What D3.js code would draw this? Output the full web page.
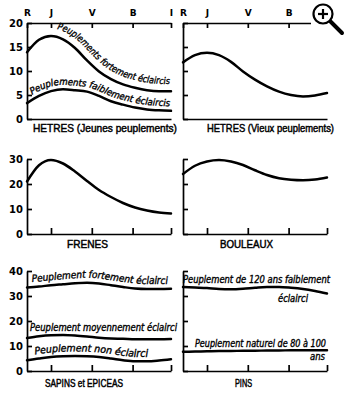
<!DOCTYPE html>
<html><head><meta charset="utf-8">
<script src="https://cdn.jsdelivr.net/npm/d3@7"></script>
<style>body{margin:0;background:#fff} svg{display:block}</style>
</head><body>
<script>
// ---- data ----
const xTickLabels = ["R", "J", "V", "B", "I"];
const xTickValues = [0, 1, 2.7, 4.4, 6];
const xs = [0, 0.5, 1, 1.5, 2, 2.5, 3, 3.5, 4, 4.5, 5, 5.5, 6];
const hetresJeunesFort   = [13.9, 16.5, 17.3, 16.6, 14.8, 12.2, 9.9, 8.3, 7.2, 6.5, 6.0, 5.8, 5.8];
const hetresJeunesFaible = [3.3, 4.8, 5.8, 6.2, 6.0, 5.7, 4.8, 3.7, 3.0, 2.4, 2.0, 1.8, 1.7];
const hetresVieux        = [11.8, 13.3, 13.8, 13.3, 11.9, 9.9, 8.2, 6.8, 5.7, 5.0, 4.7, 4.9, 5.4];
const frenes             = [21, 27.5, 29.6, 28.2, 25, 21.2, 17.6, 14.8, 12.4, 10.6, 9.4, 8.6, 8.2];
const bouleaux           = [24, 27.3, 29, 29.6, 29, 27.6, 25.5, 23.6, 22.3, 21.7, 21.5, 21.8, 22.6];
const sapinsFort         = [33.4, 33.8, 34.3, 34.7, 35.1, 35.3, 35.0, 34.3, 33.6, 33.0, 32.8, 32.8, 32.9];
const sapinsMoyen        = [13.2, 13.9, 14.3, 14.4, 14.2, 13.8, 13.3, 13.0, 12.9, 12.7, 12.7, 12.7, 12.8];
const sapinsNon          = [4.3, 5.0, 5.6, 5.9, 6.0, 5.9, 5.6, 5.0, 4.3, 3.9, 3.9, 4.2, 4.7];
const pinsFaible         = [33.6, 33.4, 33.2, 32.8, 32.7, 32.9, 33.3, 33.6, 33.6, 33.3, 32.8, 32.0, 31.0];
const pinsNaturel        = [7.7, 7.8, 7.9, 8.0, 8.0, 8.1, 8.1, 8.2, 8.2, 8.3, 8.3, 8.3, 8.3];
const yTicksTop = [0, 5, 10, 15, 20];
const yTicksMid = [0, 10, 20, 30];
const yTicksBot = [0, 10, 20, 30, 40];
const titles = ["HETRES (Jeunes peuplements)", "HETRES (Vieux peuplements)", "FRENES", "BOULEAUX", "SAPINS et EPICEAS", "PINS"];

// ---- layout ----
const W = 350, H = 400;
const svg = d3.select("body").append("svg").attr("width", W).attr("height", H);
const defs = svg.append("defs");
const cols = [[27, 171], [183, 327]];
const rows = [[119, 23], [234, 159], [371, 271]];
const rowTicks = [yTicksTop, yTicksMid, yTicksBot];
const rowDomains = [[0, 20], [0, 30], [0, 40]];
const titleBoxes = [
  [33, 177, 132], [207, 334, 132],
  [67, 108, 248], [220, 273, 248],
  [45, 123, 387], [235, 252, 387]
];
const seriesByPanel = [
  [hetresJeunesFort, hetresJeunesFaible], [hetresVieux],
  [frenes], [bouleaux],
  [sapinsFort, sapinsMoyen, sapinsNon], [pinsFaible, pinsNaturel]
];

const panels = [];
for (let r = 0; r < 3; r++) for (let c = 0; c < 2; c++) {
  const i = r * 2 + c;
  const x = d3.scaleLinear().domain([0, 6]).range(cols[c]);
  const y = d3.scaleLinear().domain(rowDomains[r]).range(rows[r]);
  panels.push({ r, c, x, y });
  const g = svg.append("g");

  const ax = d3.axisLeft(y).tickValues(rowTicks[r]).tickSizeInner(-5).tickSizeOuter(0).tickPadding(4)
    .tickFormat(c === 0 ? d3.format("d") : "");
  const gl = g.append("g").attr("transform", `translate(${cols[c][0]},0)`).call(ax);
  const bx = d3.axisBottom(x).tickValues(r === 0 ? [] : xTickValues.slice(1)).tickSizeInner(-6).tickSizeOuter(0).tickFormat("");
  const gb = g.append("g").attr("transform", `translate(0,${rows[r][0]})`).call(bx);
  const axes = [gl, gb];
  if (r === 0) {
    const tx = d3.axisTop(x).tickValues(xTickValues).tickSizeInner(-5).tickSizeOuter(0).tickPadding(7)
      .tickFormat((d, k) => xTickLabels[k]);
    const gt = g.append("g").attr("transform", `translate(0,${rows[r][1]})`).call(tx);
    gt.selectAll("text").attr("font-size", 9).attr("font-weight", "bold");
    axes.push(gt);
  }
  axes.forEach(a => {
    a.select(".domain").attr("stroke", "#000").attr("stroke-width", 1.7);
    a.selectAll(".tick line").attr("stroke", "#000").attr("stroke-width", 1.7);
    a.selectAll("text").attr("fill", "#000").attr("font-family", "'DejaVu Sans', sans-serif");
  });
  gl.selectAll("text").attr("font-size", 10).attr("font-weight", "bold");

  const line = d3.line().x((d, k) => x(xs[k])).y(d => y(d)).curve(d3.curveMonotoneX);
  seriesByPanel[i].forEach(s => {
    g.append("path").attr("d", line(s)).attr("fill", "none").attr("stroke", "#000")
      .attr("stroke-width", 2.5).attr("stroke-linecap", "round");
  });

  const tb = titleBoxes[i];
  g.append("text").attr("x", tb[0]).attr("y", tb[2]).text(titles[i])
    .attr("font-family", "'Liberation Sans', Arial, sans-serif")
    .attr("font-size", r === 0 ? 10.5 : 10)
    .attr("stroke", "#000").attr("stroke-width", 0.45)
    .attr("textLength", tb[1] - tb[0]).attr("lengthAdjust", "spacingAndGlyphs")
    .attr("fill", "#000");
}

// ---- curve labels ----
const labelFont = "'DejaVu Sans Condensed', 'DejaVu Sans', sans-serif";
let pid = 0;
function offsetAtX(node, px) {
  let lo = 0, hi = node.getTotalLength();
  for (let k = 0; k < 40; k++) {
    const mid = (lo + hi) / 2;
    if (node.getPointAtLength(mid).x < px) lo = mid; else hi = mid;
  }
  return (lo + hi) / 2;
}
function styleLabel(t, size) {
  return t.attr("font-family", labelFont).attr("font-size", size).attr("font-style", "italic")
    .attr("fill", "#000").attr("stroke", "#000").attr("stroke-width", 0.35);
}
// label follows the curve, lifted along its normal by `dist` pixels; one text per word
function curvedLabel(p, series, text, x0px, x1px, dist, size) {
  const base = d3.line().x((d, k) => p.x(xs[k])).y(d => p.y(d)).curve(d3.curveMonotoneX);
  const tmp = defs.append("path").attr("d", base(series));
  const tn = tmp.node(), L = tn.getTotalLength(), N = 240;
  const pts = [];
  for (let k = 0; k <= N; k++) {
    const s = L * k / N;
    const a = tn.getPointAtLength(Math.max(0, s - 1)), b = tn.getPointAtLength(Math.min(L, s + 1));
    const c = tn.getPointAtLength(s);
    const dx = b.x - a.x, dy = b.y - a.y, len = Math.hypot(dx, dy) || 1;
    pts.push([c.x + dist * dy / len, c.y - dist * dx / len]);
  }
  tmp.remove();
  const id = "lp" + (pid++);
  const node = defs.append("path").attr("id", id).attr("d", d3.line()(pts)).node();
  const s0 = offsetAtX(node, x0px), s1 = offsetAtX(node, x1px);
  const words = text.split(" ");
  const meas = styleLabel(svg.append("text"), size);
  const widths = words.map(w => { meas.text(w); return meas.node().getComputedTextLength(); });
  meas.text("a a"); const wAA = meas.node().getComputedTextLength();
  meas.text("aa"); const space = wAA - meas.node().getComputedTextLength();
  meas.remove();
  const natural = d3.sum(widths) + space * (words.length - 1);
  const k = (s1 - s0) / natural;
  let pos = s0;
  words.forEach((w, j) => {
    styleLabel(svg.append("text"), size)
      .append("textPath").attr("href", "#" + id).attr("startOffset", pos)
      .attr("textLength", widths[j] * k).attr("lengthAdjust", "spacingAndGlyphs").text(w);
    pos += (widths[j] + space) * k;
  });
}
function straightLabel(px0, px1, baseline, text, size) {
  styleLabel(svg.append("text"), size).attr("x", px0).attr("y", baseline).text(text)
    .attr("textLength", px1 - px0).attr("lengthAdjust", "spacingAndGlyphs");
}
const P = panels;
curvedLabel(P[0], hetresJeunesFort, "Peuplements fortement éclaircis", 57, 170, 7.5, 9.5);
curvedLabel(P[0], hetresJeunesFaible, "Peuplements faiblement éclaircis", 32, 170, 4.5, 9.5);
curvedLabel(P[4], sapinsFort, "Peuplement fortement éclairci", 32, 168, 5, 10);
straightLabel(30, 177, P[4].y(sapinsMoyen[0]) - 7, "Peuplement moyennement éclairci", 10);
curvedLabel(P[4], sapinsNon, "Peuplement non éclairci", 35, 148, 4.5, 10);
straightLabel(183, 330, P[5].y(pinsFaible[0]) - 4, "Peuplement de 120 ans faiblement", 10);
straightLabel(278, 308, P[5].y(pinsFaible[9]) + 14, "éclairci", 10);
straightLabel(195, 326, P[5].y(pinsNaturel[0]) - 5, "Peuplement naturel de 80 à 100", 10);
straightLabel(310, 325, P[5].y(pinsNaturel[12]) + 10, "ans", 10);

// ---- magnifier icon ----
const mg = svg.append("g");
mg.append("rect").attr("x", 311).attr("y", 0).attr("width", 39).attr("height", 36).attr("fill", "#fff");
mg.append("line").attr("x1", 329).attr("y1", 20).attr("x2", 342).attr("y2", 33)
  .attr("stroke", "#000").attr("stroke-width", 4).attr("stroke-linecap", "round");
mg.append("circle").attr("cx", 323).attr("cy", 14).attr("r", 9.5).attr("fill", "#fff")
  .attr("stroke", "#000").attr("stroke-width", 2.2);
mg.append("line").attr("x1", 318).attr("y1", 14).attr("x2", 328).attr("y2", 14).attr("stroke", "#000").attr("stroke-width", 2.2);
mg.append("line").attr("x1", 323).attr("y1", 9).attr("x2", 323).attr("y2", 19).attr("stroke", "#000").attr("stroke-width", 2.2);
</script>
</body></html>
